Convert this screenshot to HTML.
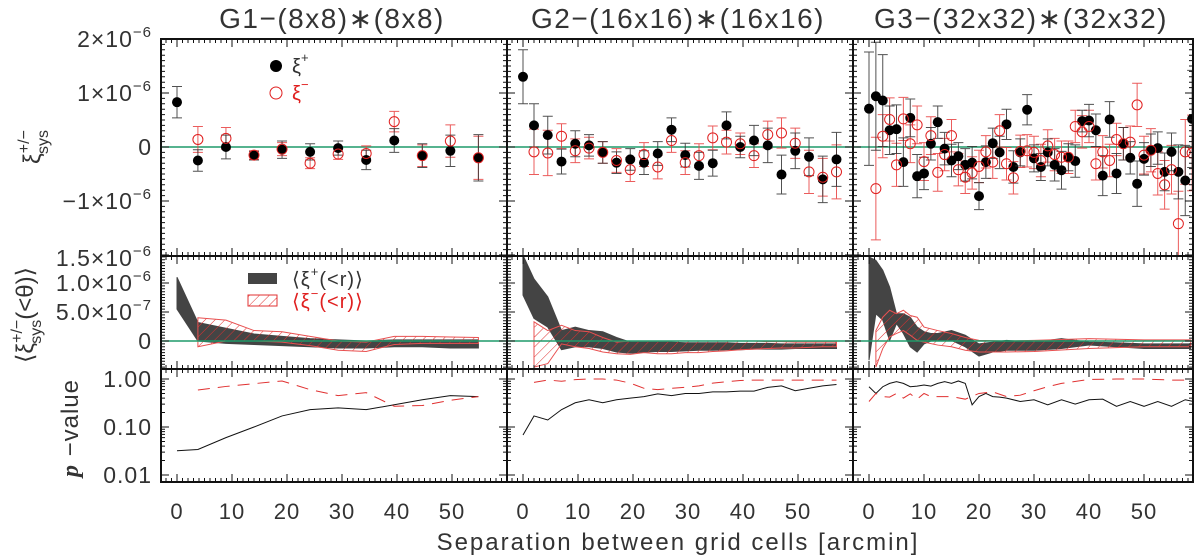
<!DOCTYPE html>
<html><head><meta charset="utf-8"><style>
html,body{margin:0;padding:0;background:#fff;}
svg{display:block;font-family:"Liberation Sans",sans-serif;}
</style></head><body>
<svg id="fig" width="1200" height="556" viewBox="0 0 1200 556" xmlns="http://www.w3.org/2000/svg">
<defs>
<pattern id="hatch" patternUnits="userSpaceOnUse" width="7" height="7" patternTransform="rotate(45)">
<line x1="0" y1="0" x2="0" y2="7" stroke="#e03030" stroke-width="1"/>
</pattern>
<clipPath id="c0"><rect x="161" y="39" width="346" height="443"/></clipPath>
<clipPath id="c1"><rect x="507" y="39" width="346" height="443"/></clipPath>
<clipPath id="c2"><rect x="853" y="39" width="340" height="443"/></clipPath>
</defs>
<g id="content"></g>
<g id="frames"></g>
<g id="labels" fill="#333" font-size="20">
<text x="332" y="28" text-anchor="middle" font-size="28" letter-spacing="1.5">G1−(8x8)∗(8x8)</text>
<text x="678" y="28" text-anchor="middle" font-size="28" letter-spacing="1.5">G2−(16x16)∗(16x16)</text>
<text x="1021" y="28" text-anchor="middle" font-size="28" letter-spacing="1.5">G3−(32x32)∗(32x32)</text>
<text x="678" y="550" text-anchor="middle" font-size="24" letter-spacing="2">Separation between grid cells [arcmin]</text>
<text transform="translate(40,147) rotate(-90)" text-anchor="middle" font-size="24">ξ<tspan font-size="16" dy="-11">+/−</tspan><tspan font-size="16" dx="-24" dy="19">sys</tspan></text>
<text transform="translate(33,315) rotate(-90)" text-anchor="middle" font-size="24">⟨ξ<tspan font-size="16" dy="-11">+/−</tspan><tspan font-size="16" dx="-24" dy="19">sys</tspan><tspan dy="-8">(&lt;θ)⟩</tspan></text>
<text transform="translate(78,428) rotate(-90)" text-anchor="middle" font-size="24" letter-spacing="1"><tspan font-style="italic" font-weight="bold" font-family="Liberation Serif">p</tspan> −value</text>
</g>
</svg>
<script>
// ---------- data ----------
const x1 = [0,3.8,8.9,14,19.1,24.2,29.3,34.4,39.5,44.6,49.7,54.8];
const p1Plus = [0.83,-0.25,0.0,-0.16,-0.05,-0.09,-0.02,-0.24,0.12,-0.16,-0.07,-0.2];
const p1PlusErr = [0.29,0.2,0.22,0.08,0.16,0.15,0.13,0.18,0.22,0.22,0.29,0.43];
const x1m = [3.8,8.9,14,19.1,24.2,29.3,34.4,39.5,44.6,49.7,54.8];
const p1Minus = [0.14,0.16,-0.15,-0.04,-0.3,-0.13,-0.12,0.47,-0.16,0.11,-0.2];
const p1MinusErr = [0.24,0.2,0.08,0.12,0.1,0.1,0.14,0.19,0.2,0.3,0.4];
const c1GrayHi = [1.1,0.32,0.22,0.12,0.08,0.04,0.02,0.0,0.02,0.02,0.02,0.02];
const c1GrayLo = [0.55,0.0,-0.04,-0.06,-0.08,-0.1,-0.12,-0.12,-0.1,-0.1,-0.12,-0.12];
const c1RedHi = [0.4,0.36,0.18,0.16,0.08,0.0,-0.02,0.08,0.08,0.07,0.06];
const c1RedLo = [-0.1,0.0,0.0,-0.02,-0.08,-0.16,-0.18,-0.06,-0.04,-0.04,-0.04];
const pv1Plus = [0.032,0.034,0.06,0.10,0.17,0.23,0.25,0.23,0.29,0.37,0.45,0.43];
const pv1Minus = [0.59,0.7,0.8,0.91,0.6,0.45,0.52,0.27,0.28,0.36,0.43];

const x2 = [0,2,4.5,7,9.5,12,14.5,17,19.5,22,24.5,27,29.5,32,34.5,37,39.5,42,44.5,47,49.5,52,54.5,57];
const p2Plus = [1.30,0.40,0.22,-0.27,0.06,0.03,-0.10,-0.29,-0.23,-0.29,-0.12,0.32,-0.15,-0.35,-0.30,0.40,0,0.12,0.03,-0.51,-0.07,-0.18,-0.60,-0.23];
const p2PlusErr = [0.5,0.4,0.35,0.23,0.24,0.2,0.2,0.2,0.2,0.22,0.22,0.22,0.22,0.25,0.24,0.25,0.2,0.28,0.32,0.36,0.33,0.35,0.43,0.5];
const x2m = [2,4.5,7,9.5,12,14.5,17,19.5,22,24.5,27,29.5,32,34.5,37,39.5,42,44.5,47,49.5,52,54.5,57];
const p2Minus = [-0.09,-0.11,0.20,-0.07,-0.02,-0.10,-0.25,-0.42,-0.14,-0.37,0.12,-0.29,-0.16,0.17,0.09,0.06,-0.16,0.23,0.26,0.07,-0.46,-0.56,-0.46];
const p2MinusErr = [0.42,0.42,0.23,0.22,0.2,0.2,0.22,0.22,0.22,0.22,0.22,0.22,0.22,0.22,0.22,0.2,0.22,0.25,0.28,0.28,0.4,0.35,0.5];
const c2GrayHi = [1.48,1.07,0.76,0.18,0.24,0.18,0.16,0.06,-0.02,-0.02,-0.02,-0.02,-0.03,-0.03,-0.03,-0.03,-0.04,-0.04,-0.04,-0.05,-0.05,-0.05,-0.05,-0.05];
const c2GrayLo = [0.79,0.39,0.24,-0.15,-0.1,-0.1,-0.13,-0.19,-0.21,-0.19,-0.18,-0.18,-0.17,-0.16,-0.16,-0.15,-0.15,-0.14,-0.14,-0.14,-0.13,-0.13,-0.13,-0.13];
const c2RedHi = [0.33,0.18,0.27,0.18,0.16,0.06,-0.02,0.0,0.0,0.0,0.0,0.0,0.0,0.0,0.0,0.0,0.0,-0.01,-0.01,-0.02,-0.02,-0.02,-0.02];
const c2RedLo = [-0.45,-0.39,-0.05,-0.1,-0.13,-0.19,-0.22,-0.23,-0.2,-0.22,-0.22,-0.2,-0.2,-0.18,-0.17,-0.15,-0.14,-0.13,-0.12,-0.12,-0.11,-0.1,-0.1];
const pv2Plus = [0.068,0.17,0.14,0.23,0.32,0.37,0.32,0.37,0.4,0.43,0.49,0.45,0.5,0.5,0.54,0.54,0.56,0.56,0.67,0.72,0.57,0.64,0.72,0.77];
const pv2Minus = [0.85,0.95,0.9,0.97,1.0,1.0,0.95,0.82,0.64,0.6,0.64,0.67,0.72,0.82,0.88,0.93,0.95,0.95,0.95,0.95,0.95,0.95,0.95];

const x3 = [0,1.25,2.5,3.75,5,6.25,7.5,8.75,10,11.25,12.5,13.75,15,16.25,17.5,18.75,20,21.25,22.5,23.75,25,26.25,27.5,28.75,30,31.25,32.5,33.75,35,36.25,37.5,38.75,40,41.25,42.5,43.75,45,46.25,47.5,48.75,50,51.25,52.5,53.75,55,56.25,57.5,58.75];
const p3Plus = [0.71,0.94,0.86,0.31,0.33,-0.28,0.54,-0.54,-0.49,0.06,0.46,-0.03,-0.25,-0.17,-0.33,-0.29,-0.91,-0.28,0.07,-0.10,0.42,-0.37,-0.10,0.69,-0.21,-0.37,-0.10,-0.33,-0.43,-0.19,-0.26,0.48,0.49,0.31,-0.53,0.51,-0.49,0.06,-0.20,-0.68,-0.22,-0.06,-0.02,-0.46,-0.09,-0.46,-0.62,0.52];
const p3PlusErr = [1.05,1.0,0.85,0.45,0.45,0.45,0.35,0.4,0.3,0.3,0.3,0.3,0.3,0.25,0.3,0.3,0.25,0.3,0.28,0.3,0.28,0.3,0.25,0.28,0.25,0.25,0.25,0.3,0.35,0.25,0.3,0.2,0.3,0.3,0.37,0.33,0.37,0.3,0.3,0.42,0.3,0.3,0.3,0.35,0.35,0.5,0.65,0.9];
const p3Minus = [-0.77,0.20,0.51,-0.33,0.52,0.06,0.41,-0.27,0.21,-0.47,-0.14,0.21,-0.42,-0.56,-0.48,-0.36,-0.09,-0.28,0.30,-0.31,-0.57,-0.08,-0.07,-0.10,-0.25,0.02,-0.14,-0.19,-0.19,0.38,0.28,0.38,-0.31,-0.09,-0.25,0.14,0.06,0.09,0.78,-0.15,-0.06,-0.49,-0.70,-0.42,-1.42,-0.09,-0.11];
const p3MinusErr = [0.95,0.4,0.4,0.4,0.4,0.35,0.35,0.35,0.35,0.35,0.3,0.3,0.3,0.3,0.3,0.3,0.3,0.3,0.3,0.3,0.3,0.3,0.3,0.3,0.3,0.3,0.3,0.3,0.3,0.3,0.3,0.3,0.3,0.3,0.3,0.3,0.3,0.3,0.4,0.35,0.4,0.4,0.45,0.45,0.6,0.6,0.7];
const xc3 = [0,1.25,2.5,3.75,5,6.25,7.5,8.75,10,11.25,12.5,15,17.5,20,22.5,25,30,35,40,45,50,55,58.5];
const c3GrayHi = [1.45,1.39,1.22,0.93,0.47,0.47,0.41,0.24,0.16,0.13,0.13,0.18,0.1,-0.05,-0.02,0.01,-0.02,0.04,-0.02,-0.03,-0.05,-0.05,-0.05];
const c3GrayLo = [-0.33,0.47,0.36,0.01,0.3,0.13,-0.1,-0.19,-0.05,0.0,0.01,0.01,-0.1,-0.26,-0.19,-0.16,-0.16,-0.13,-0.07,-0.1,-0.13,-0.13,-0.13];
const xc3r = [1.25,2.5,3.75,5,6.25,7.5,8.75,10,12.5,15,17.5,20,25,30,40,50,58.5];
const c3RedHi = [0.18,0.41,0.53,0.47,0.53,0.44,0.41,0.24,0.18,0.13,0.06,0.01,0.0,0.01,0.04,0.02,0.02];
const c3RedLo = [-0.45,-0.13,0.07,0.13,0.18,0.1,0.01,-0.02,-0.07,-0.1,-0.16,-0.19,-0.19,-0.18,-0.13,-0.1,-0.1];
const xp3 = [0,1.25,2.5,3.75,5,6.25,7.5,8.75,10,11.25,12.5,13.75,15,16.25,17.5,18.75,20,21.25,22.5,23.75,25,27.5,30,32.5,35,37.5,40,42.5,45,47.5,50,52.5,55,57.5,59];
const pv3Plus = [0.69,0.50,0.69,0.81,0.88,0.81,0.69,0.71,0.75,0.71,0.81,0.88,0.81,0.91,0.81,0.29,0.43,0.50,0.43,0.42,0.40,0.34,0.37,0.29,0.37,0.30,0.37,0.38,0.27,0.34,0.27,0.34,0.27,0.37,0.34];
const xp3m = [0,1.25,2.5,3.75,5,6.25,7.5,8.75,10,11.25,12.5,15,17.5,20,22.5,25,27.5,30,32.5,35,40,45,50,55,59];
const pv3Minus = [0.34,0.50,0.43,0.42,0.50,0.40,0.49,0.38,0.50,0.43,0.43,0.43,0.38,0.50,0.54,0.43,0.46,0.57,0.69,0.81,0.98,1.0,1.0,0.95,0.95];
const xTickLabels = ['0','10','20','30','40','50'];

// ---------- geometry ----------
const NS = 'http://www.w3.org/2000/svg';
const panels = [{l:161,r:507},{l:507,r:853},{l:853,r:1193}];
const PPU = 5.5;
function sx(p, v){ return panels[p].l + 16 + v*PPU; }
function yTop(v){ return 147 - v*54; }
function yMid(v){ return 341 - v*58; }
function yBot(v){ return 379 - 48*Math.log10(v); }
const content = document.getElementById('content');
const frames = document.getElementById('frames');
function mk(tag, attrs, parent){ const e=document.createElementNS(NS,tag); for(const k in attrs) e.setAttribute(k,attrs[k]); parent.appendChild(e); return e; }

const sets = [
 {x:x1, plus:p1Plus, pe:p1PlusErr, xm:x1m, minus:p1Minus, me:p1MinusErr, gx:x1, gh:c1GrayHi, gl:c1GrayLo, rx:x1m, rh:c1RedHi, rl:c1RedLo, px:x1, pp:pv1Plus, pxm:x1m, pm:pv1Minus},
 {x:x2, plus:p2Plus, pe:p2PlusErr, xm:x2m, minus:p2Minus, me:p2MinusErr, gx:x2, gh:c2GrayHi, gl:c2GrayLo, rx:x2m, rh:c2RedHi, rl:c2RedLo, px:x2, pp:pv2Plus, pxm:x2m, pm:pv2Minus},
 {x:x3, plus:p3Plus, pe:p3PlusErr, xm:x3.slice(1), minus:p3Minus, me:p3MinusErr, gx:xc3, gh:c3GrayHi, gl:c3GrayLo, rx:xc3r, rh:c3RedHi, rl:c3RedLo, px:xp3, pp:pv3Plus, pxm:xp3m, pm:pv3Minus}
];

sets.forEach((d,p)=>{
  const g = mk('g',{'clip-path':`url(#c${p})`},content);
  
  
  const band = (xs,hi,lo)=>xs.map((v,i)=>sx(p,v)+','+yMid(hi[i])).join(' ')+' '+xs.map((v,i)=>sx(p,v)+','+yMid(lo[i])).reverse().join(' ');
  const gb = mk('polygon',{points:band(d.gx,d.gh,d.gl),fill:'#444',stroke:'#444','stroke-width':1},g);
  
  
  const rb = mk('polygon',{points:band(d.rx,d.rh,d.rl),fill:'url(#hatch)',stroke:'#e85050','stroke-width':1},g);
  
  
  [yTop(0),yMid(0)].forEach(yy=>{
    const zl = mk('line',{x1:panels[p].l,x2:panels[p].r,y1:yy,y2:yy,stroke:'#1f9a6a','stroke-width':1.5},g);
    
    
  });
  d.xm.forEach((v,i)=>{
    const X=sx(p,v), y1=yTop(d.minus[i]+d.me[i]), y2=yTop(d.minus[i]-d.me[i]);
    const eb = mk('path',{d:`M${X},${y1}V${y2}M${X-5},${y1}H${X+5}M${X-5},${y2}H${X+5}`,stroke:'#e84040','stroke-width':1,fill:'none',opacity:0.85},g);
    
    
  });
  d.x.forEach((v,i)=>{
    const X=sx(p,v), y1=yTop(d.plus[i]+d.pe[i]), y2=yTop(d.plus[i]-d.pe[i]);
    const eb = mk('path',{d:`M${X},${y1}V${y2}M${X-5},${y1}H${X+5}M${X-5},${y2}H${X+5}`,stroke:'#333','stroke-width':1,fill:'none',opacity:0.85},g);
    
    
    const c = mk('circle',{cx:X,cy:yTop(d.plus[i]),r:5,fill:'#000'},g);
    
    
  });
  d.xm.forEach((v,i)=>{
    const c = mk('circle',{cx:sx(p,v),cy:yTop(d.minus[i]),r:5,fill:'none',stroke:'#e02020','stroke-width':1},g);
    
    
  });
  const lp = mk('polyline',{points:d.px.map((v,i)=>sx(p,v)+','+yBot(d.pp[i])).join(' '),fill:'none',stroke:'#111','stroke-width':1},g);
  
  
  const lm = mk('polyline',{points:d.pxm.map((v,i)=>sx(p,v)+','+yBot(d.pm[i])).join(' '),fill:'none',stroke:'#e03030','stroke-width':1,'stroke-dasharray':'12,8'},g);
  
  

  const L=panels[p].l, R=panels[p].r;
  let dd='';
  const rows=[[39,256],[256,369],[369,482]];
  rows.forEach(([t,b])=>{
    for(let v=0; sx(p,v)<R; v++){ const X=sx(p,v); const len=(v%10===0)?8:4; dd+=`M${X},${b}v${-len}M${X},${t}v${len}`; }
    for(let v=-1; sx(p,v)>L; v--){ const X=sx(p,v); dd+=`M${X},${b}v-4M${X},${t}v4`; }
  });
  for(let k=-20;k<=20;k++){ const Y=yTop(k/10); const len=(k%10===0)?8:4; dd+=`M${L},${Y}h${len}M${R},${Y}h${-len}`; }
  for(let k=-9;k<=29;k++){ const Y=yMid(k*0.05); if(Y<256||Y>369) continue; const len=(k%10===0)?8:4; dd+=`M${L},${Y}h${len}M${R},${Y}h${-len}`; }
  [0.01,0.1,1].forEach(dec=>{ for(let m=1;m<10;m++){ const Y=yBot(dec*m); if(Y<369||Y>482) continue; const len=m===1?8:4; dd+=`M${L},${Y}h${len}M${R},${Y}h${-len}`; } });
  const tk = mk('path',{d:dd,stroke:'#111','stroke-width':1,fill:'none'},frames);
  
  
  rows.forEach(([t,b])=>{
    const fr = mk('rect',{x:L,y:t,width:R-L,height:b-t,fill:'none',stroke:'#111','stroke-width':2},frames);
    
    
  });
  xTickLabels.forEach((lab,i)=>{
    const t = mk('text',{x:sx(p,i*10),y:519,'text-anchor':'middle',fill:'#333','font-size':22,'letter-spacing':1},frames);
    t.textContent = lab;
    
    
  });
});

const yTopLabels = [['2×10','−6',2],['1×10','−6',1],['0','',0],['−1×10','−6',-1]];
const yMidLabels = [['1.5×10','−6',1.5],['1.0×10','−6',1.0],['5.0×10','−7',0.5],['0','',0]];
const yBotLabels = [['1.00',1],['0.10',0.1],['0.01',0.01]];
function ylab(txt,exp,Y){
  const t = mk('text',{x:152,y:Y+8,'text-anchor':'end',fill:'#333','font-size':23,'letter-spacing':1},frames);
  t.textContent = txt;
  if(exp){ const s=mk('tspan',{'font-size':15,dy:-10},t); s.textContent=exp; }
  
  
}
yTopLabels.forEach(a=>ylab(a[0],a[1],yTop(a[2])));
yMidLabels.forEach(a=>ylab(a[0],a[1],yMid(a[2])+(a[2]===1.5?4:0)));
yBotLabels.forEach(a=>ylab(a[0],'',yBot(a[1])));

const lg = mk('g',{},frames);


mk('circle',{cx:276,cy:66,r:6,fill:'#000'},lg);
let t = mk('text',{x:292,y:73,fill:'#333','font-size':20},lg); t.textContent='ξ'; let s=mk('tspan',{'font-size':13,dy:-11},t); s.textContent='+';
mk('circle',{cx:276,cy:93,r:6,fill:'none',stroke:'#e02020','stroke-width':1},lg);
t = mk('text',{x:292,y:100,fill:'#e02020','font-size':20},lg); t.textContent='ξ'; s=mk('tspan',{'font-size':13,dy:-11},t); s.textContent='−';
mk('rect',{x:248,y:273,width:29,height:11,fill:'#444'},lg);
t = mk('text',{x:292,y:286,fill:'#333','font-size':20,'letter-spacing':1},lg); t.textContent='⟨ξ'; s=mk('tspan',{'font-size':13,dy:-10},t); s.textContent='+'; s=mk('tspan',{dy:10},t); s.textContent='(<r)⟩';
mk('rect',{x:248,y:295,width:29,height:11,fill:'url(#hatch)',stroke:'#e03030','stroke-width':1},lg);
t = mk('text',{x:292,y:308,fill:'#e02020','font-size':20,'letter-spacing':1},lg); t.textContent='⟨ξ'; s=mk('tspan',{'font-size':13,dy:-10},t); s.textContent='−'; s=mk('tspan',{dy:10},t); s.textContent='(<r)⟩';
</script>
</body></html>
